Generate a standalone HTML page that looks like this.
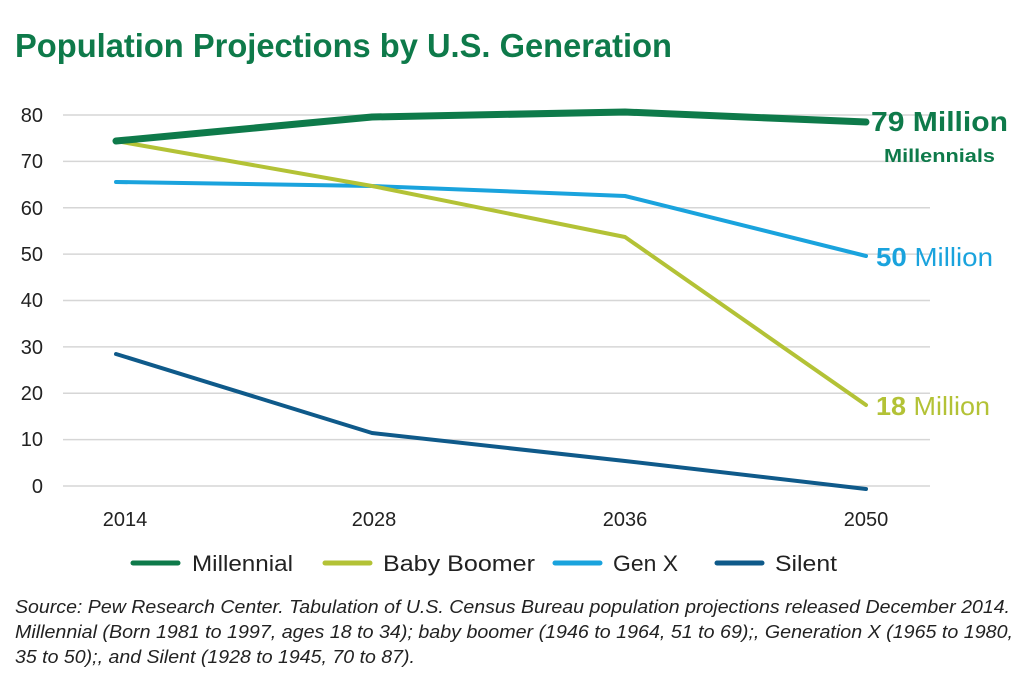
<!DOCTYPE html>
<html><head><style>
body{margin:0;background:#fff;width:1024px;height:687px;overflow:hidden;font-family:"Liberation Sans",sans-serif}
</style></head><body>
<svg width="1024" height="687" xmlns="http://www.w3.org/2000/svg" font-family="Liberation Sans, sans-serif">
<text x="15" y="57" font-size="33" font-weight="bold" fill="#0e7a4a" textLength="657" lengthAdjust="spacingAndGlyphs">Population Projections by U.S. Generation</text>
<g stroke="#d6d6d6" stroke-width="1.5">
<line x1="63" x2="930" y1="115" y2="115"/><line x1="63" x2="930" y1="161.4" y2="161.4"/>
<line x1="63" x2="930" y1="207.8" y2="207.8"/><line x1="63" x2="930" y1="254.1" y2="254.1"/>
<line x1="63" x2="930" y1="300.5" y2="300.5"/><line x1="63" x2="930" y1="346.9" y2="346.9"/>
<line x1="63" x2="930" y1="393.3" y2="393.3"/><line x1="63" x2="930" y1="439.6" y2="439.6"/>
<line x1="63" x2="930" y1="486" y2="486"/>
</g>
<g font-size="20" fill="#222" text-anchor="end">
<text x="43" y="122">80</text><text x="43" y="168">70</text><text x="43" y="215">60</text>
<text x="43" y="261">50</text><text x="43" y="307">40</text><text x="43" y="354">30</text>
<text x="43" y="400">20</text><text x="43" y="446">10</text><text x="43" y="493">0</text>
</g>
<g font-size="20" fill="#222" text-anchor="middle">
<text x="125" y="526">2014</text><text x="374" y="526">2028</text><text x="625" y="526">2036</text><text x="866" y="526">2050</text>
</g>
<g fill="none" stroke-linecap="round" stroke-linejoin="round">
<polyline points="116,354 372,433 625,461 866,489" stroke="#0f5a8a" stroke-width="4"/>
<polyline points="116,182 372,186 625,196 866,256" stroke="#1aa3dd" stroke-width="4"/>
<polyline points="116,141 372,186 625,237 866,405" stroke="#b3c236" stroke-width="4"/>
<polyline points="116,141 372,117 625,112 866,122" stroke="#0e7a4a" stroke-width="7"/>
</g>
<text x="871" y="131" font-size="28" font-weight="bold" fill="#0e7a4a" textLength="137" lengthAdjust="spacingAndGlyphs">79 Million</text>
<text x="884" y="162" font-size="18" font-weight="bold" fill="#0e7a4a" textLength="111" lengthAdjust="spacingAndGlyphs">Millennials</text>
<text x="876" y="266" font-size="26" fill="#1aa3dd" textLength="117" lengthAdjust="spacingAndGlyphs"><tspan font-weight="bold">50</tspan> Million</text>
<text x="876" y="415" font-size="26" fill="#b3c236" textLength="114" lengthAdjust="spacingAndGlyphs"><tspan font-weight="bold">18</tspan> Million</text>
<g stroke-width="5" stroke-linecap="round">
<line x1="133" x2="178" y1="563" y2="563" stroke="#0e7a4a"/>
<line x1="325" x2="370" y1="563" y2="563" stroke="#b3c236"/>
<line x1="555" x2="600" y1="563" y2="563" stroke="#1aa3dd"/>
<line x1="717" x2="762" y1="563" y2="563" stroke="#0f5a8a"/>
</g>
<g font-size="22" fill="#222">
<text x="192" y="571" textLength="101" lengthAdjust="spacingAndGlyphs">Millennial</text>
<text x="383" y="571" textLength="152" lengthAdjust="spacingAndGlyphs">Baby Boomer</text>
<text x="613" y="571" textLength="65" lengthAdjust="spacingAndGlyphs">Gen X</text>
<text x="775" y="571" textLength="62" lengthAdjust="spacingAndGlyphs">Silent</text>
</g>
<g font-size="18.5" font-style="italic" fill="#222">
<text x="15" y="613" textLength="995" lengthAdjust="spacingAndGlyphs">Source: Pew Research Center. Tabulation of U.S. Census Bureau population projections released December 2014.</text>
<text x="15" y="638" textLength="998" lengthAdjust="spacingAndGlyphs">Millennial (Born 1981 to 1997, ages 18 to 34); baby boomer (1946 to 1964, 51 to 69);, Generation X (1965 to 1980,</text>
<text x="15" y="663" textLength="400" lengthAdjust="spacingAndGlyphs">35 to 50);, and Silent (1928 to 1945, 70 to 87).</text>
</g>
</svg>
</body></html>
